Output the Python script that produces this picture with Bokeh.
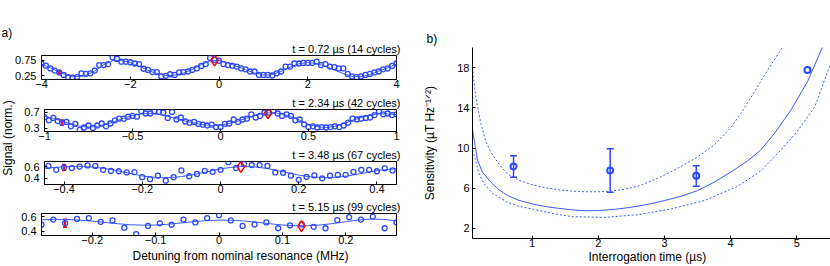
import numpy as np
from bokeh.plotting import figure
from bokeh.models import Range1d, FixedTicker, Label, Whisker, TeeHead, ColumnDataSource, Title
from bokeh.layouts import row, column
from bokeh.embed import file_html
from bokeh.resources import INLINE

FONT = "Liberation Sans"
BLUE = "#2b48ff"
LINE_BLUE = "#3d5bff"
RED = "#ff0000"

# ---------------- panel a data ----------------
# panel 1 : t = 0.72 us
p1_x = np.linspace(-4, 4, 81)
p1_y = [0.64, 0.57, 0.48, 0.41, 0.35, 0.27, 0.20, 0.18, 0.20, 0.32,
        0.30, 0.32, 0.41, 0.59, 0.59, 0.62, 0.84, 0.79, 0.70, 0.70,
        0.68, 0.64, 0.62, 0.47, 0.43, 0.36, 0.36, 0.22, 0.24, 0.29,
        0.27, 0.35, 0.36, 0.38, 0.43, 0.48, 0.56, 0.62, 0.82, 0.76,
        0.73, 0.62, 0.59, 0.57, 0.54, 0.48, 0.45, 0.38, 0.38, 0.27,
        0.27, 0.27, 0.25, 0.32, 0.38, 0.54, 0.54, 0.64, 0.64, 0.66,
        0.66, 0.66, 0.70, 0.59, 0.62, 0.54, 0.52, 0.48, 0.48, 0.30,
        0.22, 0.20, 0.22, 0.27, 0.30, 0.35, 0.38, 0.45, 0.48, 0.56, 0.64]
p1_fit_x = np.linspace(-4, 4, 41)
p1_fit_y = [0.62, 0.50, 0.36, 0.24, 0.21, 0.26, 0.40, 0.60, 0.73, 0.74,
            0.67, 0.55, 0.42, 0.31, 0.25, 0.26, 0.33, 0.45, 0.60, 0.72,
            0.74, 0.66, 0.55, 0.44, 0.33, 0.27, 0.28, 0.38, 0.52, 0.63,
            0.67, 0.64, 0.55, 0.43, 0.31, 0.22, 0.21, 0.28, 0.39, 0.50, 0.62]

# panel 2 : t = 2.34 us
p2_x = np.linspace(-1, 1, 81)
p2_y = [0.58, 0.50, 0.56, 0.48, 0.44, 0.46, 0.35, 0.41, 0.26, 0.32,
        0.37, 0.31, 0.37, 0.42, 0.35, 0.42, 0.50, 0.54, 0.54, 0.59,
        0.61, 0.59, 0.73, 0.67, 0.67, 0.73, 0.71, 0.69, 0.56, 0.71,
        0.52, 0.57, 0.47, 0.44, 0.46, 0.41, 0.39, 0.37, 0.39, 0.33,
        0.33,
        0.41, 0.42, 0.52, 0.46, 0.52, 0.54, 0.65, 0.57, 0.61, 0.69,
        0.69, 0.74, 0.67, 0.61, 0.65, 0.61, 0.50, 0.52, 0.40, 0.33,
        0.35, 0.32, 0.33, 0.32, 0.33, 0.35, 0.33, 0.37, 0.44, 0.54,
        0.52, 0.54, 0.56, 0.57, 0.63, 0.73, 0.65, 0.67, 0.63, 0.65]
p2_fit_x = np.linspace(-1, 1, 41)
p2_fit_y = [0.60, 0.55, 0.48, 0.41, 0.35, 0.33, 0.35, 0.40, 0.47, 0.55,
            0.62, 0.66, 0.67, 0.65, 0.60, 0.54, 0.48, 0.43, 0.39, 0.37,
            0.38, 0.42, 0.48, 0.56, 0.63, 0.68, 0.69, 0.66, 0.59, 0.50,
            0.40, 0.34, 0.32, 0.35, 0.42, 0.50, 0.57, 0.63, 0.66, 0.66, 0.64]

# panel 3 : t = 3.48 us
p3_x = np.linspace(-0.44, 0.44, 45)
p3_y = [0.61, 0.545, 0.585, 0.575, 0.60, 0.62, 0.61, 0.545, 0.525, 0.52,
        0.50, 0.505, 0.42, 0.385, 0.445, 0.36, 0.42, 0.535, 0.435, 0.475,
        0.525, 0.51, 0.545, 0.675, 0.575, 0.645, 0.625, 0.625, 0.61, 0.50,
        0.495, 0.445, 0.375, 0.425, 0.45, 0.40, 0.445, 0.46, 0.46, 0.51,
        0.545, 0.545, 0.52, 0.57, 0.535]
p3_fit_x = np.linspace(-0.45, 0.45, 37)
p3_fit_y = [0.57, 0.585, 0.595, 0.60, 0.60, 0.59, 0.57, 0.545, 0.51, 0.475,
            0.44, 0.42, 0.41, 0.415, 0.43, 0.455, 0.49, 0.525, 0.56, 0.585,
            0.60, 0.60, 0.585, 0.56, 0.525, 0.49, 0.455, 0.43, 0.415, 0.41,
            0.42, 0.44, 0.47, 0.50, 0.53, 0.55, 0.565]

# panel 4 : t = 5.15 us
p4_x = np.linspace(-0.28, 0.28, 31)
p4_y = [0.488, 0.56, 0.51, 0.568, 0.58, 0.528, 0.548, 0.448, 0.36, 0.472,
        0.508, 0.488, 0.56, 0.52, 0.58, 0.62, 0.548, 0.472, 0.492, 0.52,
        0.44, 0.48, 0.492, 0.46, 0.44, 0.552, 0.592, 0.56, 0.60, 0.44, 0.52]
p4_fit_x = np.linspace(-0.28, 0.28, 29)
p4_fit_y = [0.555, 0.562, 0.560, 0.552, 0.538, 0.520, 0.502, 0.488, 0.482, 0.484,
            0.495, 0.512, 0.530, 0.545, 0.552, 0.550, 0.540, 0.522, 0.502, 0.485,
            0.475, 0.475, 0.485, 0.505, 0.530, 0.553, 0.566, 0.562, 0.540]

# red markers: error-bar point (x, y, half-error) and diamond (x, y)
err_pts = [(-3.6, 0.36, 0.05), (-0.9, 0.445, 0.065), (-0.40, 0.585, 0.05), (-0.243, 0.51, 0.055)]
diamonds = [(-0.1, 0.74), (0.27, 0.68), (0.052, 0.595), (0.13, 0.47)]

titles = ["t = 0.72 µs (14 cycles)", "t = 2.34 µs (42 cycles)",
          "t = 3.48 µs (67 cycles)", "t = 5.15 µs (99 cycles)"]
x_ranges = [(-4, 4), (-1, 1), (-0.45, 0.45), (-0.28, 0.28)]
y_ranges = [(0.12, 0.9), (0.22, 0.77), (0.295, 0.686), (0.34, 0.643)]
x_ticks = [[-4, -2, 0, 2, 4], [-1, -0.5, 0, 0.5, 1], [-0.4, -0.2, 0, 0.2, 0.4], [-0.2, -0.1, 0, 0.1, 0.2]]
x_tick_labels = [["−4", "−2", "0", "2", "4"], ["−1", "−0.5", "0", "0.5", "1"],
                 ["−0.4", "−0.2", "0", "0.2", "0.4"], ["−0.2", "−0.1", "0", "0.1", "0.2"]]
y_ticks = [[0.25, 0.75], [0.3, 0.7], [0.4, 0.6], [0.4, 0.6]]
y_tick_labels = [["0.25", "0.75"], ["0.3", "0.7"], ["0.4", "0.6"], ["0.4", "0.6"]]
data_x = [p1_x, p2_x, p3_x, p4_x]
data_y = [p1_y, p2_y, p3_y, p4_y]
fit_x = [p1_fit_x, p2_fit_x, p3_fit_x, p4_fit_x]
fit_y = [p1_fit_y, p2_fit_y, p3_fit_y, p4_fit_y]

# ---------------- panel b data ----------------
sol_t = [0.10, 0.175, 0.25, 0.376, 0.5, 0.628, 0.8, 1.0, 1.2, 1.4, 1.6, 1.8, 2.0, 2.25,
         2.49, 2.75, 3.0, 3.25, 3.5, 3.75, 4.0, 4.25, 4.45, 4.66, 4.91, 5.16, 5.39]
sol_s = [11.8, 8.8, 7.6, 6.6, 5.85, 5.27, 4.8, 4.44, 4.18, 4.0, 3.85, 3.76, 3.78, 3.9,
         4.1, 4.4, 4.77, 5.2, 5.77, 6.6, 7.6, 8.7, 9.77, 11.44, 13.77, 16.6, 20.1]
up_t = [0.10, 0.15, 0.225, 0.3, 0.375, 0.5, 0.625, 0.8, 1.0, 1.2, 1.4, 1.6, 1.8, 2.0,
        2.2, 2.4, 2.6, 2.84, 3.0, 3.25, 3.5, 3.75, 4.0, 4.15, 4.35, 4.56, 4.83]
up_s = [18.0, 15.1, 12.44, 10.7, 9.6, 8.4, 7.44, 6.8, 6.35, 6.05, 5.85, 5.72, 5.65, 5.65,
        5.72, 5.9, 6.2, 6.84, 7.3, 8.17, 9.1, 10.3, 12.0, 13.4, 15.5, 17.77, 20.5]
lo_t = [0.10, 0.125, 0.2, 0.276, 0.4, 0.628, 0.8, 1.0, 1.3, 1.6, 2.1, 2.6, 3.1, 3.6,
        4.11, 4.45, 4.76, 5.0, 5.27, 5.51]
lo_s = [9.8, 9.27, 7.4, 6.44, 5.5, 4.6, 4.2, 3.94, 3.5, 3.17, 3.1, 3.37, 3.94, 4.77,
        6.2, 7.7, 9.8, 11.6, 14.1, 18.4]
meas_t = [0.72, 2.18, 3.48, 5.16]
meas_s = [8.17, 7.77, 7.24, 17.77]
err_t = [0.72, 2.18, 3.48]
err_lo = [7.1, 5.6, 6.2]
err_hi = [9.24, 9.94, 8.24]
b_x_ticks = [1, 2, 3, 4, 5]
b_x_labels = ["1", "2", "3", "4", "5"]
b_y_ticks = [2, 6, 10, 14, 18]
b_y_labels = ["2", "6", "10", "14", "18"]


def make_title(text, align, offset, standoff, size="11px"):
    return Title(text=text, align=align, offset=offset, standoff=standoff,
                 text_font=FONT, text_font_size=size, text_font_style="normal",
                 text_color="black")


def style_axes(p, xticks, xlabels, yticks, ylabels, x_standoff=0, y_standoff=5):
    p.grid.visible = False
    for ax in (p.xaxis[0], p.yaxis[0]):
        ax.axis_line_color = "black"
        ax.axis_line_width = 1
        ax.major_tick_line_color = "black"
        ax.minor_tick_line_color = None
        ax.major_tick_in = 3
        ax.major_tick_out = 0
        ax.major_label_text_font = FONT
        ax.major_label_text_font_size = "11px"
        ax.major_label_text_color = "black"
    p.xaxis[0].ticker = FixedTicker(ticks=xticks)
    p.xaxis[0].major_label_overrides = {t: l for t, l in zip(xticks, xlabels)}
    p.xaxis[0].major_label_standoff = x_standoff
    p.yaxis[0].ticker = FixedTicker(ticks=yticks)
    p.yaxis[0].major_label_overrides = {t: l for t, l in zip(yticks, ylabels)}
    p.yaxis[0].major_label_standoff = y_standoff


def make_panel(i, width, height, mbl, mbr, mbt, mbb):
    p = figure(width=width, height=height, x_range=Range1d(*x_ranges[i]),
               y_range=Range1d(*y_ranges[i]), output_backend="svg",
               toolbar_location=None, min_border=0)
    p.min_border_left = mbl
    p.min_border_right = mbr
    p.min_border_top = mbt
    p.min_border_bottom = mbb
    p.outline_line_color = "black"
    p.outline_line_width = 1
    p.background_fill_color = "white"
    p.border_fill_color = "white"
    style_axes(p, x_ticks[i], x_tick_labels[i], y_ticks[i], y_tick_labels[i])
    p.line(fit_x[i], fit_y[i], line_color=LINE_BLUE, line_width=1)
    p.scatter(data_x[i], data_y[i], marker="circle", size=5, line_color=BLUE,
              line_width=1.3, fill_color=None)
    ex, ey, ee = err_pts[i]
    src = ColumnDataSource(dict(x=[ex], lo=[ey - ee], hi=[ey + ee]))
    p.add_layout(Whisker(source=src, base="x", lower="lo", upper="hi",
                         line_color=RED, line_width=2 if i else 3,
                         upper_head=TeeHead(size=4, line_color=RED, line_width=1.5),
                         lower_head=TeeHead(size=4, line_color=RED, line_width=1.5)))
    dx, dy = diamonds[i]
    p.scatter([dx], [dy], marker="diamond", size=11, line_color=RED,
              line_width=1.5, fill_color=None)
    if i == 0:
        p.title = make_title("a)", "left", -40, 0, "12px")
        p.add_layout(make_title(titles[i], "right", -4, 2), "above")
    else:
        p.title = make_title(titles[i], "right", -4, 2)
    return p


f1 = make_panel(0, 420, 93, 41, 24, 55, 14)
f2 = make_panel(1, 399, 52, 20, 24, 14, 14)
f3 = make_panel(2, 399, 52, 20, 24, 13, 13)
f4 = make_panel(3, 420, 69, 41, 24, 13, 31)
xl = make_title("Detuning from nominal resonance (MHz)", "left", 91, 4, "12px")
xl.vertical_align = "top"
f4.add_layout(xl, "below")

side = figure(width=21, height=104, x_range=Range1d(0, 21), y_range=Range1d(0, 104),
              x_axis_type=None, y_axis_type=None, output_backend="svg",
              toolbar_location=None, min_border=0)
side.outline_line_color = None
side.grid.visible = False
side.add_layout(Label(x=7, y=59.5, angle=np.pi / 2, text="Signal (norm.)",
                      text_align="center", text_baseline="middle", text_font=FONT,
                      text_font_size="12px", text_color="black"))

col_a = column(f1, row(side, column(f2, f3)), f4)

# ---------------- panel b ----------------
pb = figure(width=410, height=266, x_range=Range1d(0.1, 5.508), y_range=Range1d(1, 20),
            output_backend="svg", toolbar_location=None, min_border=0)
pb.min_border_left = 52
pb.min_border_right = 0
pb.min_border_top = 47
pb.min_border_bottom = 28
pb.outline_line_color = None
pb.background_fill_color = "white"
pb.border_fill_color = "white"
style_axes(pb, b_x_ticks, b_x_labels, b_y_ticks, b_y_labels, x_standoff=0, y_standoff=3)
pb.yaxis[0].axis_label = "Sensitivity (µT Hz⁻¹ᐟ²)"
pb.yaxis[0].axis_label_text_font = FONT
pb.yaxis[0].axis_label_text_font_size = "12px"
pb.yaxis[0].axis_label_text_font_style = "normal"
pb.yaxis[0].axis_label_text_color = "black"
pb.yaxis[0].axis_label_standoff = 17
pb.line(sol_t, sol_s, line_color=LINE_BLUE, line_width=1)
pb.line(up_t, up_s, line_color=LINE_BLUE, line_width=1, line_dash="2 2")
pb.line(lo_t, lo_s, line_color=LINE_BLUE, line_width=1, line_dash="2 2")
esrc = ColumnDataSource(dict(t=err_t, lo=err_lo, hi=err_hi))
pb.add_layout(Whisker(source=esrc, base="t", lower="lo", upper="hi",
                      line_color=BLUE, line_width=1.5,
                      upper_head=TeeHead(size=7, line_color=BLUE, line_width=1.5),
                      lower_head=TeeHead(size=7, line_color=BLUE, line_width=1.5)))
pb.scatter(meas_t, meas_s, marker="circle", size=6, line_color=BLUE, line_width=2,
           fill_color=None)
pb.title = make_title("b)", "left", -46, 3, "12px")
bxl = make_title("Interrogation time (µs)", "left", 116, 1, "12px")
bxl.vertical_align = "top"
pb.add_layout(bxl, "below")

layout = row(col_a, pb)
open("out.html", "w").write(file_html(layout, INLINE))
